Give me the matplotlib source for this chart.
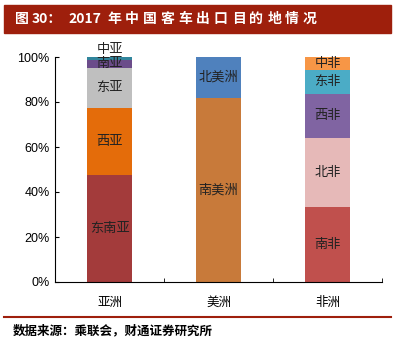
import numpy as np
import matplotlib.pyplot as plt
from matplotlib.patches import Rectangle

plt.rcParams['font.family'] = ['Noto Sans CJK SC', 'DejaVu Sans']

regions = ['亚洲', '美洲', '非洲']

# share of exports, bottom segment first (%)
asia_labels = ['东南亚', '西亚', '东亚', '南亚', '中亚']
asia_vals = [47.5, 30.0, 17.7, 3.5, 1.3]
asia_colors = ['#A33B3B', '#E46C0A', '#BFBFBF', '#6B4C8A', '#31859C']

america_labels = ['南美洲', '北美洲']
america_vals = [82.0, 18.0]
america_colors = ['#C87A3A', '#4F81BD']

africa_labels = ['南非', '北非', '西非', '东非', '中非']
africa_vals = [33.5, 30.6, 19.6, 10.7, 5.6]
africa_colors = ['#C0504D', '#E6B9B8', '#8064A2', '#4BACC6', '#F79646']

W, H = 393, 339
fig = plt.figure(figsize=(W/100, H/100), dpi=100)
ax = fig.add_axes([55/W, 1-282/H, 327/W, 225/H])

groups = [(asia_labels, asia_vals, asia_colors),
          (america_labels, america_vals, america_colors),
          (africa_labels, africa_vals, africa_colors)]

for i, (labs, vals, cols) in enumerate(groups):
    bottom = 0
    for lab, v, c in zip(labs, vals, cols):
        ax.bar(i, v, bottom=bottom, width=0.41, color=c)
        mid = bottom + v/2
        if lab == '中亚':
            mid = bottom + v + 3.4
        ax.text(i, mid, lab, ha='center', va='center', fontsize=9.5, color='#222222')
        bottom += v

ax.set_xlim(-0.5, 2.5)
ax.set_ylim(0, 100)
ax.set_yticks(np.arange(0, 101, 20))
ax.set_yticklabels([f'{t}%' for t in range(0, 101, 20)], family='Liberation Sans', fontsize=9)
ax.set_xticks(range(3))
ax.set_xticklabels(regions, fontsize=9)
ax.set_xticks([0.5, 1.5, 2.5], minor=True)
ax.tick_params(axis='x', which='major', length=0, pad=10)
ax.tick_params(axis='x', which='minor', direction='in', length=3)
ax.tick_params(axis='y', direction='in', length=3, pad=4)
ax.spines['top'].set_visible(False)
ax.spines['right'].set_visible(False)

# title bar
fig.patches.append(Rectangle((4/W, 1-33/H), 387/W, 28/H, transform=fig.transFigure,
                             color='#9E1F0C', zorder=0))
title_parts = [(15, '图'), (32, '30：'), (68, '2017')]
for k, ch in enumerate('年中国客车出口目的地情况'):
    title_parts.append((107 + 17.8*k, ch))
for x, s in title_parts:
    fig.text(x/W, 1-19/H, s, color='white', fontsize=10, fontweight='bold',
             va='center', ha='left')

# bottom line and source
fig.add_artist(plt.Line2D([4/W, 391/W], [1-317/H, 1-317/H], color='#9E1F0C', lw=1.5))
fig.text(13/W, 1-331/H, '数据来源：乘联会，财通证券研究所', fontsize=9,
         fontweight='bold', va='center', ha='left')

fig.savefig('out.png', dpi=100)
